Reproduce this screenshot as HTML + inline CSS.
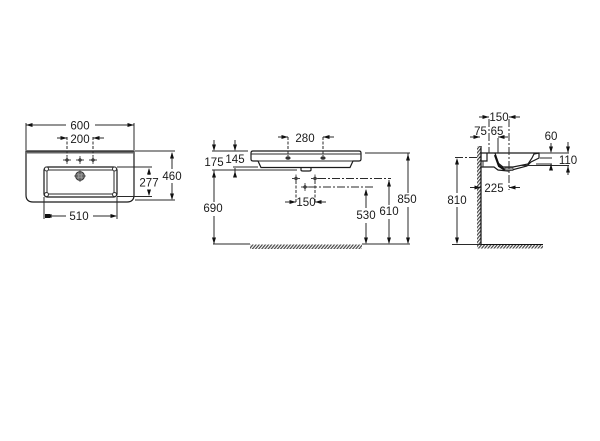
<!DOCTYPE html>
<html><head><meta charset="utf-8"><style>
html,body{margin:0;padding:0;background:#fff}
svg{display:block}
text{font-family:"Liberation Sans",sans-serif;font-size:11.5px;fill:#1a1a1a;text-anchor:middle}
.l{stroke:#2a2a2a;stroke-width:1;fill:none}
.o{stroke:#1a1a1a;stroke-width:1.200;fill:none}
.d{stroke:#2a2a2a;stroke-width:1;fill:none;stroke-dasharray:3 1.5}
.c{stroke:#2a2a2a;stroke-width:1;fill:none;stroke-dasharray:8 2 2 2}
</style></head><body>
<svg width="600" height="441" viewBox="0 0 600 441" xmlns="http://www.w3.org/2000/svg">
<defs>
<path id="ar" d="M0 0L-6.500-2V2Z" fill="#111"/>
<pattern id="ha" width="2.400" height="4" patternUnits="userSpaceOnUse" patternTransform="rotate(40)"><rect width="1.200" height="4" fill="#444"/></pattern>
<g id="cr"><path d="M-2.400 0L0-2.400L2.400 0L0 2.400Z" fill="#333"/><path d="M-4 0H4M0-4V4" stroke="#444" stroke-width=".9"/></g>
</defs>

<!-- VIEW 1 -->
<path class="o" d="M26 151H134V195Q134 202 127 202H33Q26 202 26 195Z"/>
<path d="M26 152.500H134" stroke="#666" stroke-width="2"/>
<rect class="o" x="44" y="167" width="73" height="30" rx="3"/>
<rect class="l" x="47" y="170" width="67" height="24" rx="1.500"/>
<g fill="#fff" stroke="#333" stroke-width="1"><circle cx="46.500" cy="169" r="2"/><circle cx="114.500" cy="169" r="2"/><circle cx="46.500" cy="194.500" r="2"/><circle cx="114.500" cy="194.500" r="2"/></g>
<use href="#cr" x="67" y="160"/><use href="#cr" x="80" y="160"/><use href="#cr" x="93" y="160"/>
<circle cx="80" cy="176" r="4.400" fill="#888" stroke="#333" stroke-width="1"/><circle cx="80" cy="176" r="1.800" fill="#ddd"/>
<path d="M74 176H86M80 170V182" stroke="#444" stroke-width=".8"/>
<path class="l" d="M26 123V150M134 123V150M26 125H66M95 125H134"/>
<use href="#ar" transform="translate(26 125) rotate(180)"/><use href="#ar" transform="translate(134 125)"/>
<path class="d" d="M67 137V156M93 137V156"/>
<path class="l" d="M57 138H67M93 138H104"/>
<use href="#ar" transform="translate(67 138)"/><use href="#ar" transform="translate(93 138) rotate(180)"/>
<path class="l" d="M117 167H152M117 196.500H152M135 151H175M135 200H175"/>
<path class="l" d="M149 169V175M149 190V195M172 153V169M172 183V199"/>
<use href="#ar" transform="translate(149 168) rotate(-90)"/><use href="#ar" transform="translate(149 196) rotate(90)"/>
<use href="#ar" transform="translate(172 152) rotate(-90)"/><use href="#ar" transform="translate(172 200) rotate(90)"/>
<path class="l" d="M44 197V219M117 197V219M50 216H66M93 216H116"/>
<rect x="45" y="214" width="5" height="4" fill="#111"/>
<use href="#ar" transform="translate(117 216)"/><use href="#ar" transform="translate(45 216) rotate(180)"/>
<text x="80" y="129.500">600</text><text x="80" y="143">200</text>
<text x="149" y="186.500">277</text><text x="172" y="180">460</text><text x="79" y="220">510</text>

<!-- VIEW 2 -->
<path class="o" d="M253 151H359Q361 151 361 153V159Q361 161 359 161H353L350 167.500H261L258 161H253Q251 161 251 159V153Q251 151 253 151Z"/>
<path class="l" d="M251 154H361M258 161H353"/>
<path class="o" d="M301 168V170Q301 171 303 171H309Q311 171 311 170V168"/>
<ellipse cx="288" cy="158" rx="2.600" ry="1.800" fill="#333"/><ellipse cx="323" cy="158" rx="2.600" ry="1.800" fill="#333"/>
<path class="d" d="M288 137V156M323 137V156"/>
<path class="l" d="M278 137H288M323 137H334"/>
<use href="#ar" transform="translate(288 137)"/><use href="#ar" transform="translate(323 137) rotate(180)"/>
<path class="l" d="M212 151H248M233 167H258M212 170H297"/>
<path class="l" d="M214 140V150M235 140V150M235 168V177"/>
<use href="#ar" transform="translate(214 151) rotate(90)"/><use href="#ar" transform="translate(235 151) rotate(90)"/>
<use href="#ar" transform="translate(235 171) rotate(-90)"/>
<path class="l" d="M214 170V202M214 216V244"/>
<use href="#ar" transform="translate(214 171) rotate(-90)"/><use href="#ar" transform="translate(214 244) rotate(90)"/>
<use href="#cr" x="296" y="178.500"/><use href="#cr" x="315" y="178.500"/><use href="#cr" x="305" y="187"/>
<path class="c" d="M318 178.500H391M309 187H373"/>
<path class="d" d="M296 181V203M315 181V203"/>
<path class="l" d="M285 202H296M315 202H326"/>
<use href="#ar" transform="translate(296 202)"/><use href="#ar" transform="translate(315 202) rotate(180)"/>
<path class="l" d="M365 153H410M213 244H250M362 244H410"/>
<path class="l" d="M408 153V193M408 207V243M389 180V205M389 219V243M366 190V208M366 223V243"/>
<use href="#ar" transform="translate(408 154) rotate(-90)"/><use href="#ar" transform="translate(408 244) rotate(90)"/>
<use href="#ar" transform="translate(389 180) rotate(-90)"/><use href="#ar" transform="translate(389 244) rotate(90)"/>
<use href="#ar" transform="translate(366 189) rotate(-90)"/><use href="#ar" transform="translate(366 244) rotate(90)"/>
<rect x="250" y="244.500" width="112" height="4.500" fill="url(#ha)"/>
<text x="305" y="142">280</text><text x="214" y="166">175</text><text x="235" y="163">145</text>
<text x="213" y="212">690</text><text x="306" y="206">150</text>
<text x="366" y="219">530</text><text x="389" y="215">610</text><text x="407" y="203">850</text>

<!-- VIEW 3 -->
<rect x="477" y="146" width="4" height="99" fill="url(#ha)"/>
<path d="M481 146V245" stroke="#111" stroke-width="1.200"/>
<path d="M481 244.500H543" stroke="#111" stroke-width="1"/>
<rect x="477" y="245" width="66" height="3.500" fill="url(#ha)"/>
<path class="o" d="M481 153H539"/>
<path class="o" d="M495 153L498 163L503 167H513L528 164L532 158L534 154L539 153V158L531 162L527 166L508 171L498 170L494 167H481"/>
<path d="M495 155L499 166L505 170" stroke="#111" stroke-width="2.200" fill="none"/>
<path class="o" d="M481 153V161H487V153"/>
<path class="l" d="M483 161V167"/>
<rect x="505" y="167.500" width="8" height="3" fill="#999" stroke="#333" stroke-width=".7"/>
<path class="c" d="M489 119V153M509 119V190"/>
<path class="l" d="M498 138V153"/>
<path class="l" d="M479 117H489M509 117H520M470 137H480M498 137H508"/>
<use href="#ar" transform="translate(489 117)"/><use href="#ar" transform="translate(509 117) rotate(180)"/>
<use href="#ar" transform="translate(480 137)"/><use href="#ar" transform="translate(498 137) rotate(180)"/>
<path class="l" d="M470 187.500H481M509 187.500H520"/>
<use href="#ar" transform="translate(481 187.500)"/><use href="#ar" transform="translate(509 187.500) rotate(180)"/>
<path class="l" d="M539 153H569M540 158H552M536 164H552M521 165.500H569"/>
<path class="l" d="M551 143V152M568 142V152M551 164V170M568 166V175"/>
<use href="#ar" transform="translate(551 153) rotate(90)"/><use href="#ar" transform="translate(568 153) rotate(90)"/>
<use href="#ar" transform="translate(551 164) rotate(-90)"/><use href="#ar" transform="translate(568 166) rotate(-90)"/>
<path class="c" d="M455 157.500H481"/>
<path class="l" d="M457 160V193M457 207V243M452 244.500H481"/>
<use href="#ar" transform="translate(457 158) rotate(-90)"/><use href="#ar" transform="translate(457 244) rotate(90)"/>
<text x="499" y="121">150</text><text x="480.500" y="135">75</text><text x="497" y="135">65</text>
<text x="551" y="140">60</text><text x="568" y="164">110</text>
<text x="494" y="192">225</text><text x="457" y="204">810</text>
</svg>
</body></html>
